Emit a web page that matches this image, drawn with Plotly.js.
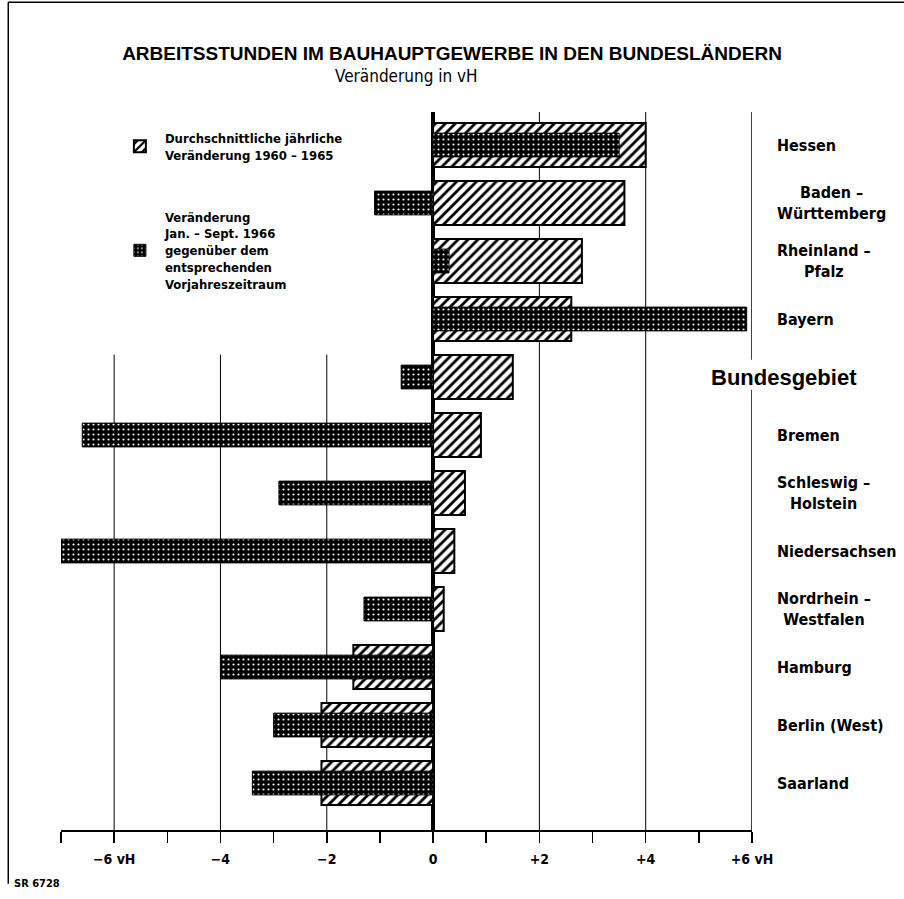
<!DOCTYPE html>
<html>
<head>
<meta charset="utf-8">
<script src="https://cdn.plot.ly/plotly-3.0.1.min.js"></script>
<style>html,body{margin:0;padding:0;background:#fff;}#chart{width:904px;height:899px;}</style>
</head>
<body>
<div id="chart"></div>
<script>
// ---- data ----
const categories = ['Hessen','Baden-Württemberg','Rheinland-Pfalz','Bayern','Bundesgebiet','Bremen','Schleswig-Holstein','Niedersachsen','Nordrhein-Westfalen','Hamburg','Berlin (West)','Saarland'];
const labels = ['Hessen','Baden –<br>Württemberg','Rheinland –<br>Pfalz','Bayern','Bundesgebiet','Bremen','Schleswig –<br>Holstein','Niedersachsen','Nordrhein –<br>Westfalen','Hamburg','Berlin (West)','Saarland'];
const change1960to1965 = [4.0, 3.6, 2.8, 2.6, 1.5, 0.9, 0.6, 0.4, 0.2, -1.5, -2.1, -2.1];
const change1966 = [3.5, -1.1, 0.3, 5.9, -0.6, -6.6, -2.9, -7.3, -1.3, -4.0, -3.0, -3.4];
const tickValues = [-7,-6,-5,-4,-3,-2,-1,0,1,2,3,4,5,6];
const tickLabels = ['','−6 vH','','−4','','−2','','0','','+2','','+4','','+6 vH'];
const seriesNames = ['Durchschnittliche jährliche<br>Veränderung 1960 – 1965','Veränderung<br>Jan. – Sept. 1966<br>gegenüber dem<br>entsprechenden<br>Vorjahreszeitraum'];
const titleText = 'ARBEITSSTUNDEN IM BAUHAUPTGEWERBE IN DEN BUNDESLÄNDERN';
const subtitleText = 'Veränderung in vH';
const sourceText = 'SR 6728';

const NARROW = '"DejaVu Sans Condensed", "Liberation Sans Narrow", sans-serif';
const WIDE = '"Liberation Sans", Arial, sans-serif';

const traces = [
  {
    type: 'bar', orientation: 'h', name: seriesNames[0],
    y: categories, x: change1960to1965, width: 0.76, cliponaxis: false,
    legendgroup: 'a',
    marker: {color: 'white', line: {color: 'black', width: 2},
      pattern: {shape: '/', fgcolor: 'black', bgcolor: 'white', size: 7, solidity: 0.4}},
    hoverinfo: 'x+y'
  },
  {
    type: 'bar', orientation: 'h', name: seriesNames[1],
    y: categories, x: change1966, width: 0.41, cliponaxis: false,
    legendgroup: 'b',
    marker: {color: 'black', line: {color: 'black', width: 1},
      pattern: {shape: '.', fgcolor: 'white', bgcolor: 'black', size: 5, solidity: 0.15}},
    hoverinfo: 'x+y'
  }
];

const shapes = [];
[-6,-4,-2].forEach(v => shapes.push({type:'line', xref:'x', yref:'paper', x0:v, x1:v, y0:0, y1:0.662, line:{color:'black', width:1}, layer:'below'}));
[2,4].forEach(v => shapes.push({type:'line', xref:'x', yref:'paper', x0:v, x1:v, y0:0, y1:1, line:{color:'black', width:1}, layer:'below'}));
shapes.push({type:'line', xref:'x', yref:'paper', x0:6, x1:6, y0:0, y1:0.613, line:{color:'black', width:1.5}, layer:'below'});
shapes.push({type:'line', xref:'x', yref:'paper', x0:6, x1:6, y0:0.655, y1:1, line:{color:'black', width:1.5}, layer:'below'});
// outer frame
shapes.push({type:'line', xref:'paper', yref:'paper', x0:-0.0763, x1:-0.0763, y0:-0.075, y1:1.153, line:{color:'black', width:1.5}});
shapes.push({type:'line', xref:'paper', yref:'paper', x0:-0.0763, x1:1.23, y0:1.153, y1:1.153, line:{color:'black', width:1.5}});

const annotations = categories.map((c, i) => {
  const isTotal = c === 'Bundesgebiet';
  return {
    xref: 'paper', yref: 'y', x: isTotal ? 0.938 : 1.034, y: c,
    xanchor: 'left', yanchor: 'middle', align: 'center', showarrow: false,
    text: labels[i],
    font: isTotal ? {family: WIDE, size: 22, color: 'black', weight: 'bold'} : {family: NARROW, size: 16, color: 'black', weight: 'bold'}
  };
});
annotations.push({xref:'paper', yref:'paper', x:0.5, y:(830-76)/718, xanchor:'center', yanchor:'middle', showarrow:false,
  text: subtitleText, font:{family: NARROW, size: 17, color:'black'}});
annotations.push({xref:'paper', yref:'paper', x:-0.0705, y:(830-883)/718, xanchor:'left', yanchor:'middle', showarrow:false,
  text: sourceText, font:{family: NARROW, size: 11, color:'black', weight:'bold'}});

const layout = {
  width: 904, height: 899,
  margin: {l: 61, r: 152, t: 112, b: 69},
  paper_bgcolor: 'white', plot_bgcolor: 'white',
  barmode: 'overlay',
  showlegend: true,
  title: {text: titleText, x: 0.5, xanchor: 'center', y: 1 - 53/899, yanchor: 'middle',
    font: {family: WIDE, size: 19, color: 'black', weight: 'bold'}},
  legend: {x: 0.078, y: 0.985, xanchor: 'left', yanchor: 'top', bgcolor: 'rgba(0,0,0,0)',
    font: {family: NARROW, size: 13, color: 'black', weight: 'bold'}, tracegroupgap: 42, itemwidth: 40},
  xaxis: {range: [-7, 6], tickvals: tickValues, ticktext: tickLabels, ticks: 'outside', ticklen: 11, tickwidth: 1.5,
    tickcolor: 'black', showline: true, linecolor: 'black', linewidth: 2, showgrid: false,
    zeroline: true, zerolinecolor: 'black', zerolinewidth: 3.5, ticklabelstandoff: 4,
    tickfont: {family: NARROW, size: 14, color: 'black', weight: 'bold'}, fixedrange: true},
  xaxis2: {range: [-7, 6], overlaying: 'x', anchor: 'y', side: 'bottom', tickvals: tickValues, ticks: 'inside', ticklen: 11,
    tickwidth: 1.5, tickcolor: 'black', showticklabels: false, showline: false, showgrid: false, zeroline: false},
  yaxis: {type: 'category', categoryarray: categories, categoryorder: 'array', range: [11.81, -0.569],
    showticklabels: false, ticks: '', showgrid: false, zeroline: false, showline: false, fixedrange: true},
  shapes: shapes,
  annotations: annotations
};

Plotly.newPlot('chart', traces, layout, {displayModeBar: false, staticPlot: true});
</script>
</body>
</html>
